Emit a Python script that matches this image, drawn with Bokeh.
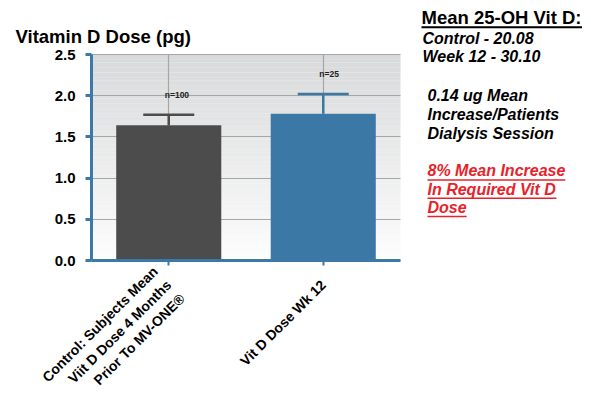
import numpy as np
from bokeh.plotting import figure
from bokeh.models import ColumnDataSource, Range1d, FixedTicker, NumeralTickFormatter
from bokeh.core.properties import value
from bokeh.embed import file_html
from bokeh.resources import INLINE

# ---------------- data ----------------
categories = ["Control: Subjects Mean\nViit D Dose 4 Months\nPrior To MV-ONE®",
              "Vit D Dose Wk 12"]
dose_means = [1.64, 1.78]
dose_errors = [0.13, 0.24]
sample_sizes = [100, 25]
y_ticks = [0.0, 0.5, 1.0, 1.5, 2.0, 2.5]

title_text = "Vitamin D Dose (pg)"
side_heading = "Mean 25-OH Vit D:"
side_levels = ["Control - 20.08", "Week 12 - 30.10"]
side_note = ["0.14 ug Mean", "Increase/Patients", "Dialysis Session"]
side_red = ["8% Mean Increase", "In Required Vit D", "Dose"]

# ---------------- styles ----------------
bar_colors = ["#4b4c4b", "#3b78a5"]
axis_blue = "#3d79a8"
red = "#e8222a"
grid_col = "#a6a6a6"
font = "Liberation Sans"
Y_MAX = 2.5

xpos = [i + 0.5 for i in range(len(categories))]
upper = [m + e for m, e in zip(dose_means, dose_errors)]
src = ColumnDataSource(dict(x=xpos, val=dose_means, upper=upper,
                            color=bar_colors,
                            nlab=["n=%d" % n for n in sample_sizes]))

# layout (pixels): plot area 91..400 x 54..260 inside a frame covering the whole canvas
PL, PT, PW, PH = 91, 54, 309, 206
W, H = 588, 418
NCAT = len(categories)

def dx(px):
    return (px - PL) * NCAT / PW

def dy(py):
    return (PT + PH - py) * Y_MAX / PH

p = figure(x_range=Range1d(dx(0), dx(W)), y_range=Range1d(dy(H), dy(0)),
           frame_width=W, frame_height=H,
           min_border_left=0, min_border_top=0,
           min_border_right=0, min_border_bottom=0,
           output_backend="svg", toolbar_location=None)
p.outline_line_color = None
p.background_fill_color = "white"
p.border_fill_color = "white"

# gradient background of the plot area
n_strips = 80
edges = np.linspace(0, Y_MAX, n_strips + 1)
centers = (edges[:-1] + edges[1:]) / 2
top_c = np.array([0xd8, 0xd9, 0xda])
bot_c = np.array([0xfd, 0xfd, 0xfd])
cols = []
for c in centers:
    t = c / Y_MAX
    rgb = bot_c + (top_c - bot_c) * t
    cols.append("#%02x%02x%02x" % tuple(int(round(v)) for v in rgb))
p.hbar(y=centers, height=Y_MAX / n_strips + 0.002, left=0, right=NCAT,
       fill_color=cols, line_color=None, level="image")

# axes
for ax in (p.xaxis[0], p.yaxis[0]):
    ax.axis_line_color = axis_blue
    ax.axis_line_width = 3
    ax.major_tick_line_color = axis_blue
    ax.major_tick_in = 0
    ax.minor_tick_line_color = None
    ax.major_label_text_font = font
    ax.major_label_text_font_style = "bold"
    ax.major_label_text_color = "black"

p.yaxis.fixed_location = 0
p.yaxis.bounds = (0, Y_MAX)
p.yaxis.ticker = FixedTicker(ticks=y_ticks)
p.yaxis.formatter = NumeralTickFormatter(format="0.0")
p.yaxis.major_tick_line_width = 3
p.yaxis.major_tick_out = 6
p.yaxis.major_label_text_font_size = "15px"
p.yaxis.major_label_standoff = 10

p.xaxis.fixed_location = 0
p.xaxis.bounds = (0, NCAT)
p.xaxis.ticker = FixedTicker(ticks=xpos)
p.xaxis.major_label_overrides = {x: c for x, c in zip(xpos, categories)}
p.xaxis.major_tick_line_width = 2
p.xaxis.major_tick_out = 5
p.xaxis.major_label_text_font_size = "14px"
p.xaxis.major_label_orientation = np.pi / 4
p.xaxis.major_label_standoff = 17

# grid limited to the plot area
if "cross_bounds" in p.ygrid[0].properties():
    p.ygrid.cross_bounds = (0, NCAT)
    p.xgrid.cross_bounds = (0, Y_MAX)
    for g in (p.xgrid[0], p.ygrid[0]):
        g.grid_line_color = grid_col
        g.grid_line_width = 1.2
else:
    p.grid.grid_line_color = None
    p.segment(x0=[0] * len(y_ticks), x1=[NCAT] * len(y_ticks), y0=y_ticks, y1=y_ticks,
              line_color=grid_col, line_width=1.2, level="underlay")
    p.segment(x0=xpos, x1=xpos, y0=[0] * NCAT, y1=[Y_MAX] * NCAT,
              line_color=grid_col, line_width=1.2, level="underlay")

# bars + error bars
p.vbar(x="x", top="val", width=0.68, fill_color="color", line_color=None, source=src)
p.segment(x0="x", y0="val", x1="x", y1="upper", line_color="color",
          line_width=2.5, source=src)
p.scatter(x="x", y="upper", marker="dash", size=51, line_color="color",
          line_width=2.5, source=src)
p.text(x="x", y="upper", text="nlab", x_offset=-4, y_offset=-20,
       text_align="left", text_baseline="middle", text_font=value(font),
       text_font_size="8.5px", text_font_style="bold", text_color="#222222", source=src)

# ---------------- title and notes ----------------
BASE_SHIFT = 0.39  # em: correction of the rendered alphabetic baseline

def txt(pxs, baselines, texts, size, style, color="black"):
    shift = BASE_SHIFT * size
    p.text(x=[dx(v) for v in pxs], y=[dy(b - shift) for b in baselines], text=texts,
           text_font=value(font), text_font_size="%.1fpx" % size,
           text_font_style=style, text_color=color, text_align="left",
           text_baseline="alphabetic")

def uline(x0, x1, py, width, color):
    p.segment(x0=[dx(x0)], x1=[dx(x1)], y0=[dy(py)], y1=[dy(py)],
              line_color=color, line_width=width)

txt([15], [43.3], [title_text], 18.5, "bold")

txt([421], [24], [side_heading], 18.5, "bold")
uline(421, 581.5, 26.8, 2, "black")
txt([422] * 2, [44.3 + 18.4 * i for i in range(2)], side_levels, 16, "bold italic")
txt([427] * 3, [101.7 + 18.7 * i for i in range(3)], side_note, 16, "bold italic")
red_y = [176.7 + 18.3 * i for i in range(3)]
txt([427] * 3, red_y, side_red, 16, "bold italic", red)
red_w = [137.8, 128.9, 39.1]
for yb, w in zip(red_y, red_w):
    uline(427, 427 + w, yb + 2.7, 1.5, red)

open("out.html", "w").write(file_html(p, INLINE))
